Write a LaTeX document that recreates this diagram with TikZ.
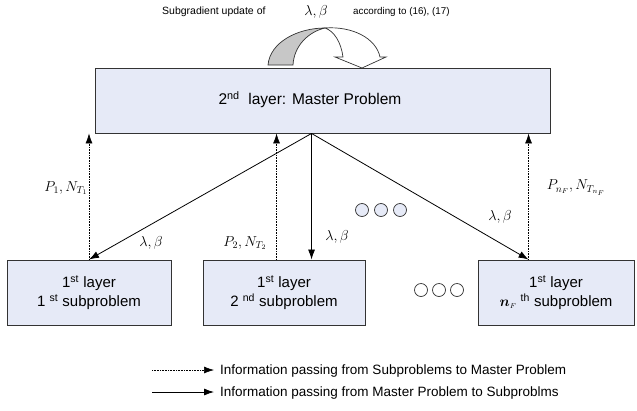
\documentclass[tikz,border=0pt]{standalone}
\usepackage{fontspec}
\setmainfont{Liberation Sans}
\usepackage{bm}
\usetikzlibrary{arrows.meta,calc}
\definecolor{boxfill}{HTML}{E6EAF7}
\begin{document}
\begin{tikzpicture}[x=1pt,y=-1pt,
  box/.style={draw=black!80, line width=0.9pt, fill=boxfill, inner sep=0pt, align=center, minimum height=65pt, font=\fontsize{15}{19}\selectfont},
  solidarrow/.style={-{Latex[length=10pt,width=7pt]}, line width=0.8pt},
  dotarrow/.style={-{Latex[length=10pt,width=7pt]}, line width=0.6pt, densely dotted},
  lab/.style={font=\fontsize{14}{16}\selectfont, inner sep=0pt},
  dotc/.style={draw=black!80, line width=0.7pt},
  legtext/.style={anchor=west, font=\fontsize{13.5}{16}\selectfont, inner sep=0pt},
]
\useasboundingbox (0,0) rectangle (637,410);

% title
\node[font=\fontsize{10.5}{12}\selectfont, anchor=west, inner sep=0pt] (title) at (162,12) {Subgradient update of};
\node[lab] (tlb) at (316,12) {$\lambda,\beta$};
\node[font=\fontsize{9.8}{12}\selectfont, anchor=west, inner sep=0pt] (acc) at (353,12) {according to (16), (17)};

% curved arrow
\filldraw[fill=black!22, draw=black!80, line width=0.7pt]
  (268,65) .. controls (270,42) and (298,28) .. (325,28)
  .. controls (308,32) and (294,46) .. (293,65) -- cycle;
\filldraw[fill=white, draw=black!80, line width=0.7pt]
  (325,28) .. controls (352,26) and (376,38) .. (380,57)
  -- (386,57) -- (362,68) -- (335,57) -- (343,57)
  .. controls (341,42) and (334,31) .. (325,28) -- cycle;

% boxes
\node[box, minimum width=455pt] (M) at (322.5,100.5) {};
\node[font=\fontsize{15.5}{19}\selectfont, inner sep=0pt] (Mt) at (310,100) {2\textsuperscript{nd}\ \ layer: Master Problem};
\node[box, minimum width=164pt] (S1) at (89,292.5) {1\textsuperscript{st} layer\\1 \textsuperscript{st} subproblem};
\node[box, minimum width=162pt] (S2) at (284,292.5) {1\textsuperscript{st} layer\\2 \textsuperscript{nd} subproblem};
\node[box, minimum width=156pt] (S3) at (556,292.5) {1\textsuperscript{st} layer\\$\bm{n}_{\scriptscriptstyle F}$ \textsuperscript{th} subproblem};

% attachment points
\coordinate (apex) at ($(M.south west)+(217,0)$);
\coordinate (s2in) at ($(S2.north west)+(109,0)$);
\coordinate (s2out) at ($(S2.north west)+(74,0)$);
\coordinate (s3p) at ($(S3.north west)+(51,0)$);

% solid arrows master -> sub
\draw[solidarrow] (apex) -- (S1.north);
\draw[solidarrow] (apex) -- (s2in);
\draw[solidarrow] (apex) -- (s3p);

% dotted arrows sub -> master
\draw[dotarrow] (S1.north) -- (S1.north |- M.south);
\draw[dotarrow] (s2out) -- (s2out |- M.south);
\draw[dotarrow] (s3p) -- (s3p |- M.south);

% labels
\node[lab] (p1) at (66,188) {$P_1, N_{T_1}$};
\node[lab] (lb1) at (151,243) {$\lambda,\beta$};
\node[lab] (p2) at (245,243) {$P_2, N_{T_2}$};
\node[lab] (lb2) at (337,237) {$\lambda,\beta$};
\node[lab] (lb3) at (500,217) {$\lambda,\beta$};
\node[lab] (p3) at (576,188) {$P_{n_F}, N_{T_{n_F}}$};

% ellipsis circles
\foreach \i/\cx in {1/362,2/381,3/400}{
  \node[dotc, circle, fill=boxfill, minimum size=13pt, inner sep=0pt] (m\i) at (\cx,210) {};
}
\foreach \i/\cx in {1/421,2/439,3/457}{
  \node[dotc, circle, fill=white, minimum size=13pt, inner sep=0pt] (b\i) at (\cx,290) {};
}

% legend
\coordinate (l1s) at (152,370);
\coordinate (l1e) at (214,370);
\coordinate (l2s) at (152,392);
\coordinate (l2e) at (214,392);
\draw[dotarrow] (l1s) -- (l1e);
\draw[solidarrow] (l2s) -- (l2e);
\node[legtext] (t1) at (220,371) {Information passing from Subproblems to Master Problem};
\node[legtext] (t2) at (220,393) {Information passing from Master Problem to Subproblms};
\end{tikzpicture}
\end{document}
